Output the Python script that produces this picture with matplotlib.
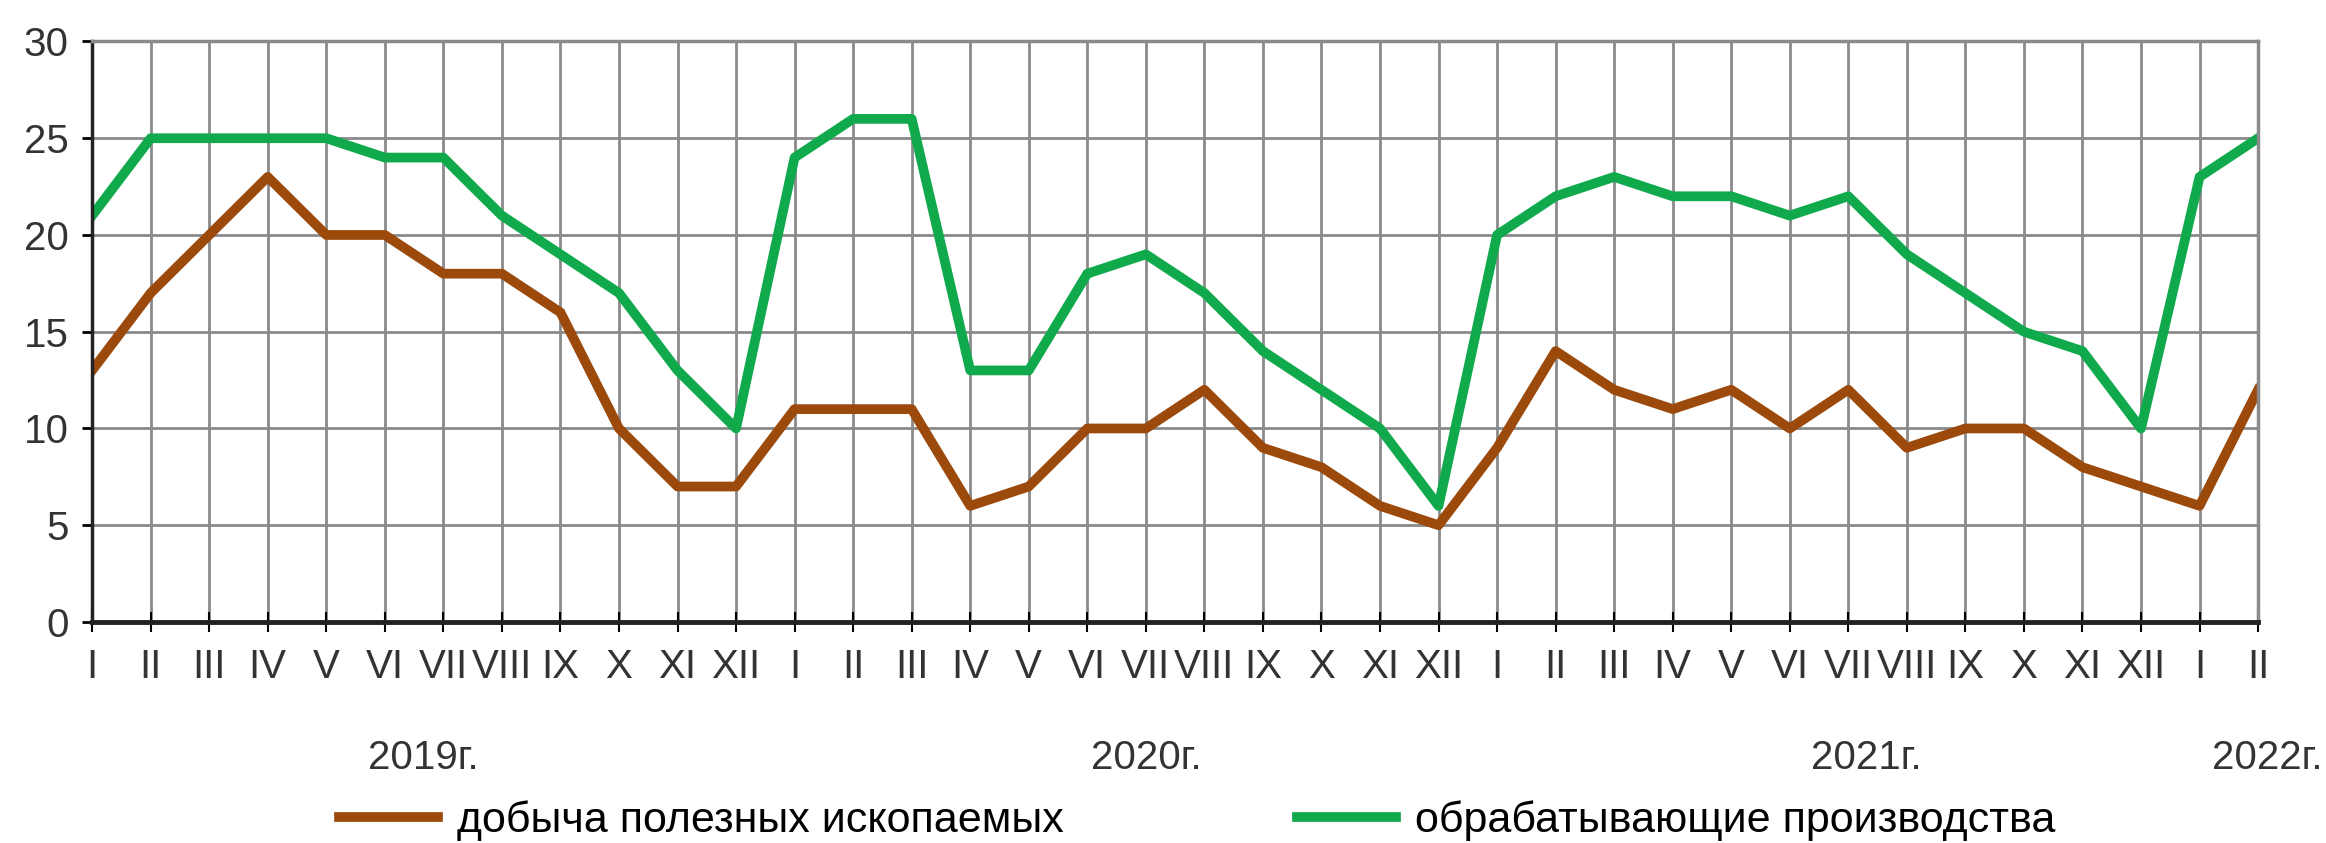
import numpy as np
import matplotlib.pyplot as plt

months = ["I", "II", "III", "IV", "V", "VI", "VII", "VIII", "IX", "X", "XI", "XII"]
labels = months * 3 + ["I", "II"]

# monthly values, Jan 2019 - Feb 2022
mining = [13, 17, 20, 23, 20, 20, 18, 18, 16, 10, 7, 7,
          11, 11, 11, 6, 7, 10, 10, 12, 9, 8, 6, 5,
          9, 14, 12, 11, 12, 10, 12, 9, 10, 10, 8, 7,
          6, 12]
manufacturing = [21, 25, 25, 25, 25, 24, 24, 21, 19, 17, 13, 10,
                 24, 26, 26, 13, 13, 18, 19, 17, 14, 12, 10, 6,
                 20, 22, 23, 22, 22, 21, 22, 19, 17, 15, 14, 10,
                 23, 25]

years = ["2019г.", "2020г.", "2021г.", "2022г."]
year_pos = [5.65, 18.0, 30.3, 37.15]

series_names = ["добыча полезных ископаемых", "обрабатывающие производства"]
colors = ["#9C4A0C", "#10AA4C"]

plt.rcParams['font.family'] = ['Liberation Sans Narrow', 'Liberation Sans', 'DejaVu Sans']

fig = plt.figure(figsize=(23.26, 8.43), dpi=100)
ax = fig.add_axes([0.0396, 0.2622, 0.9312, 0.6886])

x = np.arange(len(labels))
ax.plot(x, mining, color=colors[0], lw=7, label=series_names[0])
ax.plot(x, manufacturing, color=colors[1], lw=7, label=series_names[1])

ax.set_xlim(0, len(labels) - 1)
ax.set_ylim(0, 30)
ax.set_xticks(x)
ax.set_xticklabels(labels, fontsize=29, color="#333333")
ax.set_yticks(range(0, 31, 5))
ax.tick_params(axis="y", labelsize=29, labelcolor="#333333", length=7, width=2, pad=10)
ax.tick_params(axis="x", direction="inout", length=14, width=1.5, pad=12)

ax.grid(True, color="#8a8a8a", lw=2)
ax.set_axisbelow(True)
for side in ["top", "right"]:
    ax.spines[side].set_color("#8a8a8a")
    ax.spines[side].set_linewidth(2.5)
ax.spines["left"].set_color("#222222")
ax.spines["left"].set_linewidth(2.5)
ax.spines["bottom"].set_color("#222222")
ax.spines["bottom"].set_linewidth(3.5)

for yr, pos in zip(years, year_pos):
    ax.text(pos, -0.235, yr, transform=ax.get_xaxis_transform(), ha="center",
            va="center", fontsize=29, color="#333333")

fig.legend(loc="center", bbox_to_anchor=(0.5147, 0.027), ncol=2, frameon=False,
           fontsize=31, handlelength=2.3, handletextpad=0.45, columnspacing=5.4)

fig.savefig("out.png", dpi=100)
